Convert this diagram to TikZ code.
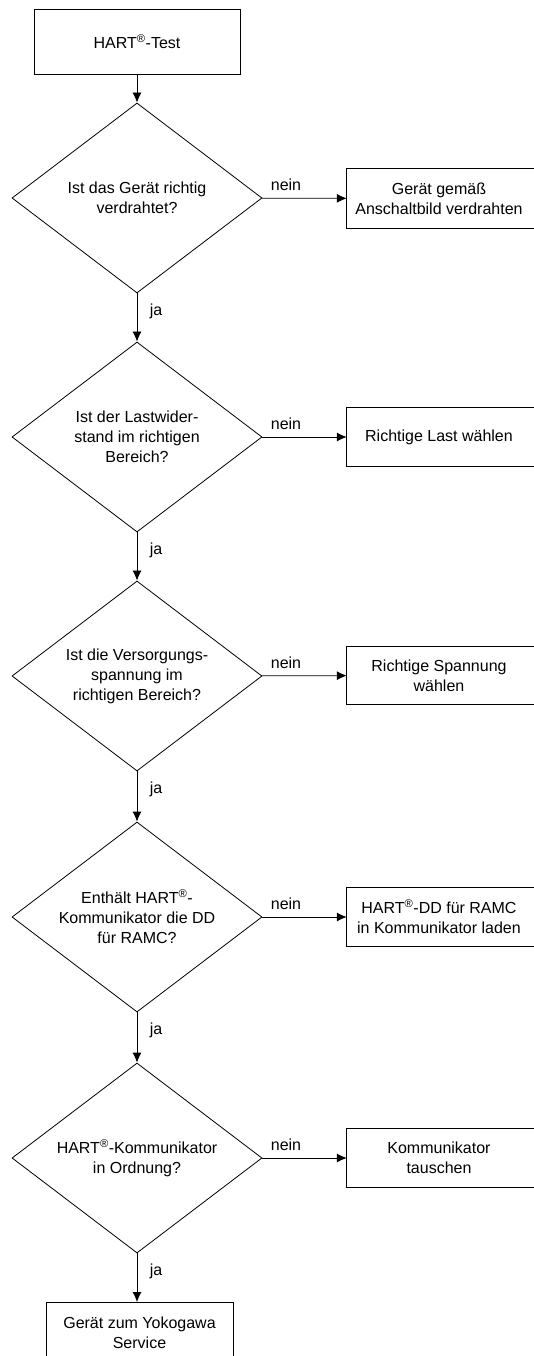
\documentclass[tikz,border=0pt]{standalone}
\usepackage{fontspec}
\setmainfont{Liberation Sans}
\usetikzlibrary{shapes.geometric,arrows.meta}

\begin{document}
\begin{tikzpicture}[x=1pt,y=-1pt,font=\fontsize{16}{20}\selectfont,
	kasten/.style={draw,line width=0.8pt,align=center,inner sep=0pt},
	aktion/.style={align=center,inner sep=0pt,minimum width=184pt,minimum height=58pt},
	raute/.style={draw,diamond,line width=0.8pt,align=center,inner sep=0pt,
		minimum width=250pt,minimum height=190pt,aspect=1.3},
	pfeil/.style={-{Latex[length=10pt,width=9pt]},line width=0.8pt}]
\useasboundingbox (0,0) rectangle (533,1356);

\node[kasten,minimum width=206pt,minimum height=65pt] (T) at (137,41.5) {HART\textsuperscript{\textregistered}-Test};

\node[raute] (D1) at (137,198) {Ist das Gerät richtig\\verdrahtet?};
\node[raute] (D2) at (137,437) {Ist der Lastwider-\\stand im richtigen\\Bereich?};
\node[raute] (D3) at (137,676) {Ist die Versorgungs-\\spannung im\\richtigen Bereich?};
\node[raute] (D4) at (137,917) {Enthält HART\textsuperscript{\textregistered}-\\Kommunikator die DD\\für RAMC?};
\node[raute] (D5) at (137,1158) {HART\textsuperscript{\textregistered}-Kommunikator\\in Ordnung?};

% boxes on the right run past the edge of the page
\node[aktion,minimum height=59pt] (A1) at (439,198.5) {Gerät gemäß\\Anschaltbild verdrahten};
\node[aktion] (A2) at (439,437) {Richtige Last wählen};
\node[aktion] (A3) at (439,675.5) {Richtige Spannung\\wählen};
\node[aktion] (A4) at (439,917) {HART\textsuperscript{\textregistered}-DD für RAMC\\in Kommunikator laden};
\node[aktion] (A5) at (439,1158) {Kommunikator\\tauschen};
\draw[line width=0.8pt] (A1.north west) rectangle ([xshift=20pt]A1.south east);
\draw[line width=0.8pt] (A2.north west) rectangle ([xshift=20pt]A2.south east);
\draw[line width=0.8pt] (A3.north west) rectangle ([xshift=20pt]A3.south east);
\draw[line width=0.8pt] (A4.north west) rectangle ([xshift=20pt]A4.south east);
\draw[line width=0.8pt] (A5.north west) rectangle ([xshift=20pt]A5.south east);

\node[kasten,minimum width=187pt,minimum height=60pt,anchor=north] (E) at (139.5,1302) {Gerät zum Yokogawa\\Service};

\path[pfeil] (T) edge (D1);
\path[pfeil] (D1) edge (D2);
\path[pfeil] (D2) edge (D3);
\path[pfeil] (D3) edge (D4);
\path[pfeil] (D4) edge (D5);
\path[pfeil] (D5) edge (E.north -| D5.south);

\path[pfeil] (D1) edge (A1);
\path[pfeil] (D2) edge (A2);
\path[pfeil] (D3) edge (A3);
\path[pfeil] (D4) edge (A4);
\path[pfeil] (D5) edge (A5);

\node (n1) at (286,185) {nein};
\node (n2) at (286,424) {nein};
\node (n3) at (286,663) {nein};
\node (n4) at (286,904) {nein};
\node (n5) at (286,1145) {nein};

\node (j1) at (156,311) {ja};
\node (j2) at (156,550) {ja};
\node (j3) at (156,789) {ja};
\node (j4) at (156,1030) {ja};
\node (j5) at (156,1271) {ja};
\end{tikzpicture}
\end{document}
